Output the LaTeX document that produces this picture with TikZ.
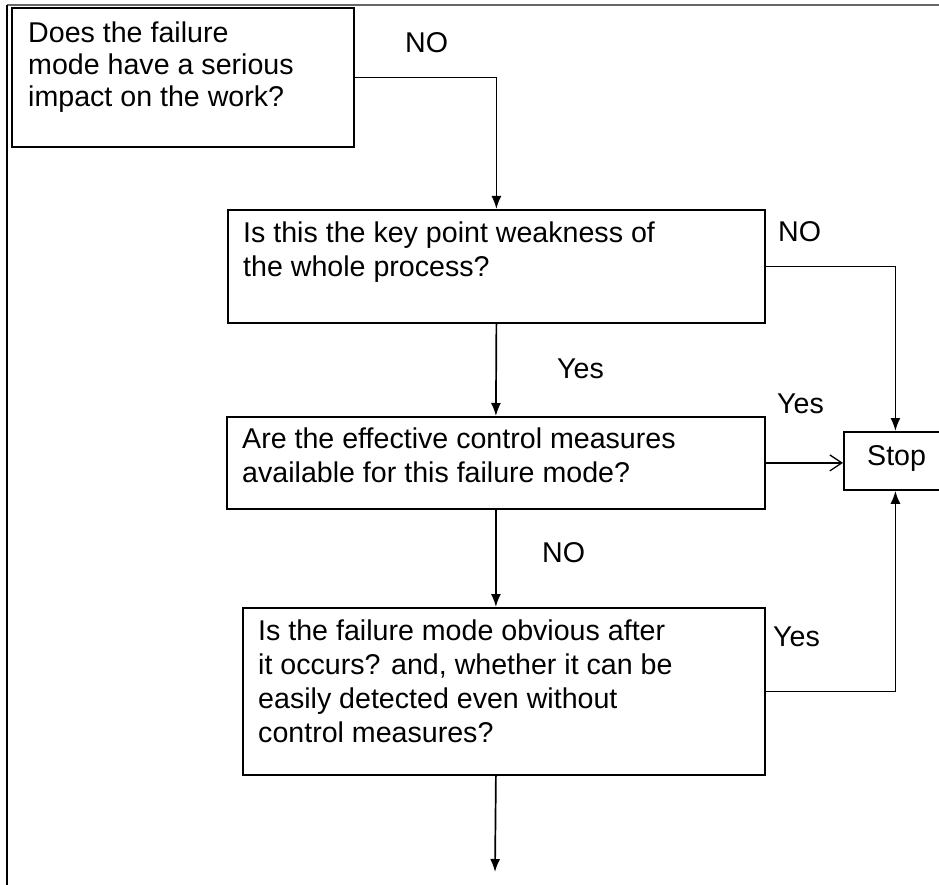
\documentclass[tikz,border=0pt]{standalone}
\usepackage{fontspec}
\setmainfont{Liberation Sans}
\usetikzlibrary{arrows.meta}
\begin{document}
\begin{tikzpicture}[x=1pt,y=-1pt,
  box/.style={draw, line width=1.8pt, inner sep=0pt, anchor=north west},
  txt/.style={anchor=base west, inner sep=0pt, font=\fontsize{28.6}{34}\selectfont},
  conn/.style={line width=1.7pt},
  arr/.style={conn, -{Latex[length=13pt,width=10pt]}},
  openarr/.style={line width=1.3pt, -{Straight Barb[length=12pt,width=16pt,line width=1.3pt]}},
]
\useasboundingbox (0,0) rectangle (939,885);
% frame
\draw[gray!80!black, line width=2pt] (7,5) -- (939,5);
\draw[line width=1.3pt] (7,5) -- (7,885);

% boxes
\node[box, minimum width=342pt, minimum height=139pt] (b1) at (11,7) {};
\node[box, minimum width=537pt, minimum height=113pt] (b2) at (227,209) {};
\node[box, minimum width=538pt, minimum height=92pt] (b3) at (226,416) {};
\node[box, minimum width=522pt, minimum height=167pt] (b4) at (242,607) {};
\node[box, minimum width=103pt, minimum height=58pt] (stop) at (843,431) {};

% box texts
\node[txt] (t1) at (28,43) {\vtop{\baselineskip=32pt\hbox{Does the failure}\hbox{mode have a serious}\hbox{impact on the work?}}};
\node[txt] (t2) at (243,243) {\vtop{\hbox{Is this the key point weakness of}\hbox{the whole process?}}};
\node[txt] (t3) at (242,448) {\vtop{\hbox{Are the effective control measures}\hbox{available for this failure mode?}}};
\node[txt] (t4) at (258,640) {\vtop{\hbox{Is the failure mode obvious after}\hbox{it occurs? and, whether it can be}\hbox{easily detected even without}\hbox{control measures?}}};
\node[txt] (ts) at (867,465) {Stop};

% labels
\node[txt] (l1) at (405,53) {NO};
\node[txt] (l2) at (778,242) {NO};
\node[txt] (l3) at (557,378) {Yes};
\node[txt] (l4) at (777,413) {Yes};
\node[txt] (l5) at (542,562) {NO};
\node[txt] (l6) at (773,646) {Yes};

% connectors
\coordinate (endpt) at (495,872);
\draw[arr] (b1.east) -| (b2.north);
\draw[arr] (b2.east) -| (stop.north);
\draw[arr] (b2.south) -- (b3.north);
\draw[openarr] (b3.east) -- (b3.east -| stop.west);
\draw[arr] (b3.south) -- (b3.south |- b4.north);
\draw[arr] (b4.east) -| (stop.south);
\draw[arr] (b4.south -| b3.south) -- (endpt);
\end{tikzpicture}
\end{document}
